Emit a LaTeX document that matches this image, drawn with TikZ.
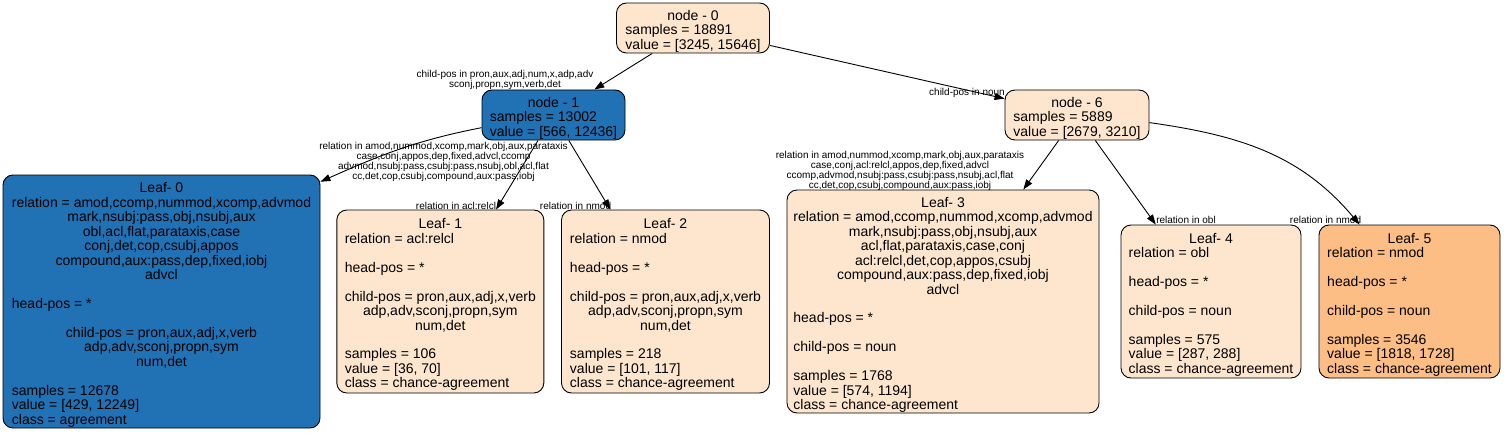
\documentclass[tikz,border=0pt]{standalone}
\usepackage{fontspec}
\setmainfont{Liberation Sans}
\usetikzlibrary{arrows.meta}
\definecolor{peach}{HTML}{FEE6CE}
\definecolor{deepblue}{HTML}{2171B5}
\definecolor{salmon}{HTML}{FDBE85}
\newcommand{\ctr}[1]{\multicolumn{1}{@{}c@{}}{#1}}
\newcommand{\rows}[1]{\begin{tabular}{@{}l@{}}\noalign{\vskip4pt}#1\\\noalign{\vskip-4pt}\end{tabular}}
\tikzset{
  box/.style={draw, rounded corners=10pt, line width=0.9pt, inner xsep=4pt, inner ysep=0pt,
    font=\fontsize{14}{14.4}\selectfont},
  pale/.style={box, fill=peach},
  dark/.style={box, fill=deepblue},
  cond/.style={font=\fontsize{10}{10}\selectfont, align=center, inner sep=0pt}
}
\begin{document}
\begin{tikzpicture}[x=1pt, y=1pt, >={Triangle[length=10pt,width=7pt]}, line width=0.9pt]
    \useasboundingbox (0,0) rectangle (1504,432);
    % split nodes
    \node[pale, minimum width=153pt, minimum height=50pt] (n0) at (693,404)
      {\rows{\ctr{node - 0}\\ samples = 18891\\ value = [3245, 15646]}};
    \node[dark, minimum width=143pt, minimum height=50pt] (n1) at (553.5,317)
      {\rows{\ctr{node - 1}\\ samples = 13002\\ value = [566, 12436]}};
    \node[pale, minimum width=144pt, minimum height=50pt] (n6) at (1077,317)
      {\rows{\ctr{node - 6}\\ samples = 5889\\ value = [2679, 3210]}};
    % leaves
    \node[dark, minimum width=317pt, minimum height=253pt] (L0) at (161.5,130.5)
      {\rows{\ctr{Leaf- 0}\\
        relation = amod,ccomp,nummod,xcomp,advmod\\
        \ctr{mark,nsubj:pass,obj,nsubj,aux}\\
        \ctr{obl,acl,flat,parataxis,case}\\
        \ctr{conj,det,cop,csubj,appos}\\
        \ctr{compound,aux:pass,dep,fixed,iobj}\\
        \ctr{advcl}\\
        \\
        head-pos = *\\
        \\
        \ctr{child-pos = pron,aux,adj,x,verb}\\
        \ctr{adp,adv,sconj,propn,sym}\\
        \ctr{num,det}\\
        \\
        samples = 12678\\
        value = [429, 12249]\\
        class = agreement}};
    \node[pale, minimum width=207pt, minimum height=183pt] (L1) at (440.3,130.5)
      {\rows{\ctr{Leaf- 1}\\
        relation = acl:relcl\\
        \\
        head-pos = *\\
        \\
        child-pos = pron,aux,adj,x,verb\\
        \ctr{adp,adv,sconj,propn,sym}\\
        \ctr{num,det}\\
        \\
        samples = 106\\
        value = [36, 70]\\
        class = chance-agreement}};
    \node[pale, minimum width=208pt, minimum height=183pt] (L2) at (665.5,130.5)
      {\rows{\ctr{Leaf- 2}\\
        relation = nmod\\
        \\
        head-pos = *\\
        \\
        child-pos = pron,aux,adj,x,verb\\
        \ctr{adp,adv,sconj,propn,sym}\\
        \ctr{num,det}\\
        \\
        samples = 218\\
        value = [101, 117]\\
        class = chance-agreement}};
    \node[pale, minimum width=312pt, minimum height=223pt] (L3) at (943,130.5)
      {\rows{\ctr{Leaf- 3}\\
        relation = amod,ccomp,nummod,xcomp,advmod\\
        \ctr{mark,nsubj:pass,obj,nsubj,aux}\\
        \ctr{acl,flat,parataxis,case,conj}\\
        \ctr{acl:relcl,det,cop,appos,csubj}\\
        \ctr{compound,aux:pass,dep,fixed,iobj}\\
        \ctr{advcl}\\
        \\
        head-pos = *\\
        \\
        child-pos = noun\\
        \\
        samples = 1768\\
        value = [574, 1194]\\
        class = chance-agreement}};
    \node[pale, minimum width=180pt, minimum height=153pt] (L4) at (1211,130.5)
      {\rows{\ctr{Leaf- 4}\\
        relation = obl\\
        \\
        head-pos = *\\
        \\
        child-pos = noun\\
        \\
        samples = 575\\
        value = [287, 288]\\
        class = chance-agreement}};
    \node[box, fill=salmon, minimum width=181pt, minimum height=153pt] (L5) at (1409.5,130.5)
      {\rows{\ctr{Leaf- 5}\\
        relation = nmod\\
        \\
        head-pos = *\\
        \\
        child-pos = noun\\
        \\
        samples = 3546\\
        value = [1818, 1728]\\
        class = chance-agreement}};
    % edges
    \draw[->] (n0) -- (n1);
    \draw[->] (n0) -- (n6);
    \draw[->] (n1.190) to[out=191, in=24] (L0.37);
    \draw[->] (n1) -- (L1);
    \draw[->] (n1) -- (L2);
    \draw[->] (n6) -- (L3);
    \draw[->] (n6) -- (L4);
    \draw[->] (n6.-6) to[out=-8, in=130] (L5.123);
    % edge conditions
    \node[cond] (c01) at (505,352) {child-pos in pron,aux,adj,num,x,adp,adv\\ sconj,propn,sym,verb,det};
    \node[cond, anchor=base] (c06) at (967,336) {child-pos in noun};
    \node[cond] (c10) at (443.5,270) {relation in amod,nummod,xcomp,mark,obj,aux,parataxis\\
      case,conj,appos,dep,fixed,advcl,ccomp\\
      advmod,nsubj:pass,csubj:pass,nsubj,obl,acl,flat\\
      cc,det,cop,csubj,compound,aux:pass,iobj};
    \node[cond, anchor=base] (c11) at (456,223) {relation in acl:relcl};
    \node[cond, anchor=base] (c12) at (575.5,223) {relation in nmod};
    \node[cond] (c63) at (900,261.5) {relation in amod,nummod,xcomp,mark,obj,aux,parataxis\\
      case,conj,acl:relcl,appos,dep,fixed,advcl\\
      ccomp,advmod,nsubj:pass,csubj:pass,nsubj,acl,flat\\
      cc,det,cop,csubj,compound,aux:pass,iobj};
    \node[cond, anchor=base] (c64) at (1186,209) {relation in obl};
    \node[cond, anchor=base] (c65) at (1325.5,209) {relation in nmod};
\end{tikzpicture}
\end{document}
